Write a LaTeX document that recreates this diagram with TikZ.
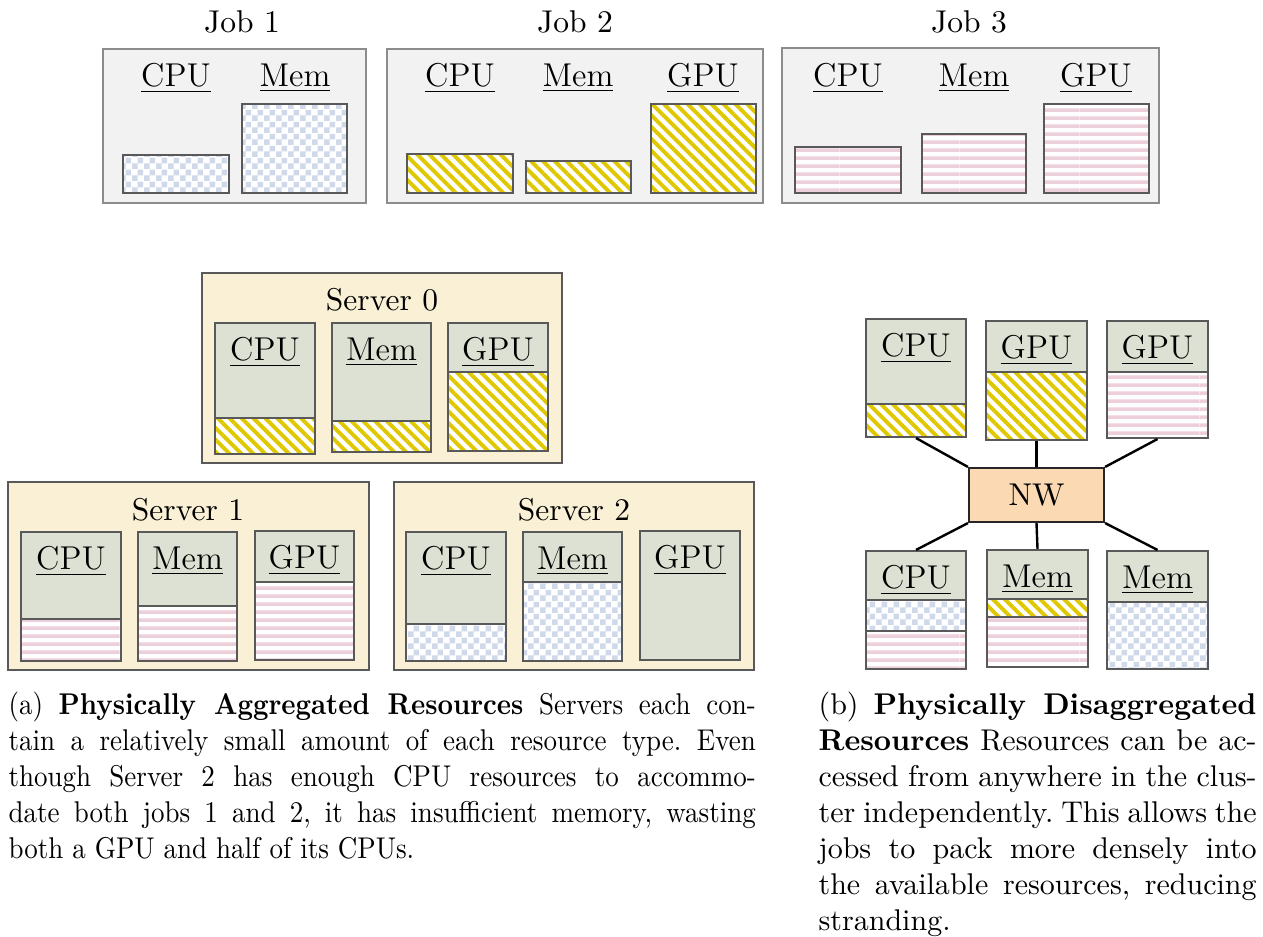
\documentclass[tikz,border=0pt]{standalone}
\usetikzlibrary{positioning,fit,patterns,patterns.meta}

\definecolor{jobfill}{HTML}{F2F2F2}
\definecolor{jobline}{HTML}{8C8C8C}
\definecolor{srvfill}{HTML}{F9F0D5}
\definecolor{resfill}{HTML}{DCE1D3}
\definecolor{boxline}{HTML}{595959}
\definecolor{chkblue}{HTML}{CFD9E9}
\definecolor{stripyel}{HTML}{E0C800}
\definecolor{strippink}{HTML}{EDCFDC}
\definecolor{nwfill}{HTML}{FAD9B3}

\pgfdeclarepatternformonly{checks}{\pgfpointorigin}{\pgfqpoint{4pt}{4pt}}{\pgfqpoint{4pt}{4pt}}{%
  \pgfpathrectangle{\pgfpointorigin}{\pgfqpoint{2pt}{2pt}}%
  \pgfpathrectangle{\pgfqpoint{2pt}{2pt}}{\pgfqpoint{2pt}{2pt}}%
  \pgfusepath{fill}}
\pgfdeclarepatternformonly{hstripes}{\pgfpointorigin}{\pgfqpoint{40pt}{2.7pt}}{\pgfqpoint{40pt}{2.7pt}}{%
  \pgfpathrectangle{\pgfpointorigin}{\pgfqpoint{40pt}{1.3pt}}%
  \pgfusepath{fill}}

\tikzset{
  jobbox/.style={draw=jobline,fill=jobfill,line width=0.7pt,inner sep=0pt},
  srvbox/.style={draw=boxline,fill=srvfill,line width=0.7pt,inner sep=0pt},
  resbox/.style={draw=boxline,fill=resfill,line width=0.7pt,inner sep=0pt},
  nwbox/.style={draw=black!85,fill=nwfill,line width=0.7pt,minimum width=45pt,minimum height=18pt,font=\fontsize{10.5}{12}\selectfont},
  chkbar/.style={draw=boxline,line width=0.7pt,preaction={fill=white},pattern=checks,pattern color=chkblue},
  yelbar/.style={draw=boxline,line width=0.7pt,preaction={fill=white},pattern={Lines[angle=-45,distance=2.8pt,line width=1.3pt]},pattern color=stripyel},
  pinkbar/.style={draw=boxline,line width=0.7pt,preaction={fill=white},pattern=hstripes,pattern color=strippink},
  title/.style={anchor=base,inner sep=0pt,font=\fontsize{10.5}{12}\selectfont},
  reslbl/.style={inner sep=1pt,font=\fontsize{11}{13}\selectfont},
  joblbl/.style={reslbl,anchor=north},
  wire/.style={line width=0.8pt},
  capt/.style={anchor=north west,inner sep=0pt,align=justify,font=\fontsize{10}{12}\selectfont\frenchspacing}
}

\begin{document}
\begin{tikzpicture}[x=0.3333pt,y=-0.3333pt]
\useasboundingbox (0,0) rectangle (1263,937);

% the three jobs
\node[jobbox,fit={(103,49) (366,203)}] (job1) {};
\node[jobbox,fit={(387,49) (763,203)}] (job2) {};
\node[jobbox,fit={(782,48) (1159,203)}] (job3) {};
\node[title] (job1t) at (242,33) {Job 1};
\node[title] (job2t) at (575,33) {Job 2};
\node[title] (job3t) at (969,33) {Job 3};

\node[joblbl] (j1cpu) at (176,60) {\underline{CPU}};
\node[joblbl] (j1mem) at (295,60) {\underline{Mem}};
\draw[chkbar] (123,155) rectangle (229,193);
\draw[chkbar] (242,104) rectangle (347,193);

\node[joblbl] (j2cpu) at (460,60) {\underline{CPU}};
\node[joblbl] (j2mem) at (578,60) {\underline{Mem}};
\node[joblbl] (j2gpu) at (703,60) {\underline{GPU}};
\draw[yelbar] (407,154) rectangle (513,193);
\draw[yelbar] (526,161) rectangle (631,193);
\draw[yelbar] (651,104) rectangle (756,193);

\node[joblbl] (j3cpu) at (848,60) {\underline{CPU}};
\node[joblbl] (j3mem) at (974,60) {\underline{Mem}};
\node[joblbl] (j3gpu) at (1096,60) {\underline{GPU}};
\draw[pinkbar] (795,147) rectangle (901,193);
\draw[pinkbar] (922,134) rectangle (1026,193);
\draw[pinkbar] (1044,104) rectangle (1149,193);

% (a) servers
\node[srvbox,fit={(202,273) (562,463)}] (srv0) {};
\node[title] (srv0t) at (382,311) {Server 0};
\node[resbox,fit={(215,323) (315,454)}] (s0cpu) {};
\node[resbox,fit={(332,323) (431,452)}] (s0mem) {};
\node[resbox,fit={(448,323) (548,451)}] (s0gpu) {};
\node[reslbl,below=4pt of s0cpu.north] (s0cpul) {\underline{CPU}};
\node[reslbl,below=4pt of s0mem.north] (s0meml) {\underline{Mem}};
\node[reslbl,below=4pt of s0gpu.north] (s0gpul) {\underline{GPU}};
\draw[yelbar] (215,418) rectangle (315,454);
\draw[yelbar] (332,421) rectangle (431,452);
\draw[yelbar] (448,372) rectangle (548,451);

\node[srvbox,fit={(8,482) (369,670)}] (srv1) {};
\node[title] (srv1t) at (188,520) {Server 1};
\node[resbox,fit={(21,532) (121,661)}] (s1cpu) {};
\node[resbox,fit={(138,532) (237,661)}] (s1mem) {};
\node[resbox,fit={(255,531) (354,660)}] (s1gpu) {};
\node[reslbl,below=4pt of s1cpu.north] (s1cpul) {\underline{CPU}};
\node[reslbl,below=4pt of s1mem.north] (s1meml) {\underline{Mem}};
\node[reslbl,below=4pt of s1gpu.north] (s1gpul) {\underline{GPU}};
\draw[pinkbar] (21,619) rectangle (121,661);
\draw[pinkbar] (138,606) rectangle (237,661);
\draw[pinkbar] (255,582) rectangle (354,660);

\node[srvbox,fit={(394,482) (754,670)}] (srv2) {};
\node[title] (srv2t) at (574,520) {Server 2};
\node[resbox,fit={(406,532) (506,661)}] (s2cpu) {};
\node[resbox,fit={(523,532) (622,661)}] (s2mem) {};
\node[resbox,fit={(640,531) (740,660)}] (s2gpu) {};
\node[reslbl,below=4pt of s2cpu.north] (s2cpul) {\underline{CPU}};
\node[reslbl,below=4pt of s2mem.north] (s2meml) {\underline{Mem}};
\node[reslbl,below=4pt of s2gpu.north] (s2gpul) {\underline{GPU}};
\draw[chkbar] (406,624) rectangle (506,661);
\draw[chkbar] (523,582) rectangle (622,661);

% (b) disaggregated pool
\node[resbox,fit={(866,319) (966,437)}] (d1) {};
\node[resbox,fit={(986,321) (1087,440)}] (d2) {};
\node[resbox,fit={(1107,321) (1208,438)}] (d3) {};
\node[reslbl,below=4pt of d1.north] (d1l) {\underline{CPU}};
\node[reslbl,below=4pt of d2.north] (d2l) {\underline{GPU}};
\node[reslbl,below=4pt of d3.north] (d3l) {\underline{GPU}};
\draw[yelbar] (866,404) rectangle (966,437);
\draw[yelbar] (986,372) rectangle (1087,440);
\draw[pinkbar] (1107,372) rectangle (1208,438);

\node[nwbox] (nw) at (1036.5,495) {NW};

\node[resbox,fit={(866,551) (966,669)}] (d4) {};
\node[resbox,fit={(987,550) (1088,667)}] (d5) {};
\node[resbox,fit={(1107,551) (1208,669)}] (d6) {};
\node[reslbl,below=4pt of d4.north] (d4l) {\underline{CPU}};
\node[reslbl,below=4pt of d5.north] (d5l) {\underline{Mem}};
\node[reslbl,below=4pt of d6.north] (d6l) {\underline{Mem}};
\draw[chkbar] (866,600) rectangle (966,631);
\draw[pinkbar] (866,631) rectangle (966,669);
\draw[yelbar] (987,599) rectangle (1088,617);
\draw[pinkbar] (987,617) rectangle (1088,667);
\draw[chkbar] (1107,602) rectangle (1208,669);

\draw[wire] (d1.south) -- (nw.north west);
\draw[wire] (d2.south) -- (nw.north);
\draw[wire] (d3.south) -- (nw.north east);
\draw[wire] (nw.south west) -- (d4.north);
\draw[wire] (nw.south) -- (d5.north);
\draw[wire] (nw.south east) -- (d6.north);

% captions
\node[capt,anchor=north west] (capa) at (8,691) {\scalebox{0.9}[1]{\parbox{276.7pt}{\fontsize{10}{12}\selectfont\frenchspacing
 (a) \textbf{Physically Aggregated Resources} Servers each con-\linebreak
 tain a relatively small amount of each resource type. Even\linebreak
 though Server~2 has enough CPU resources to accommo-\linebreak
 date both jobs 1 and 2, it has insufficient memory, wasting\linebreak
 both a GPU and half of its CPUs.}}};
\node[capt,text width=146pt] (capb) at (818,691) {(b) \textbf{Physically Disaggregated}\linebreak
 \textbf{Resources} Resources can be ac-\linebreak
 cessed from anywhere in the clus-\linebreak
 ter independently. This allows the\linebreak
 jobs to pack more densely into\linebreak
 the available resources, reducing\linebreak
 stranding.};
\end{tikzpicture}
\end{document}
